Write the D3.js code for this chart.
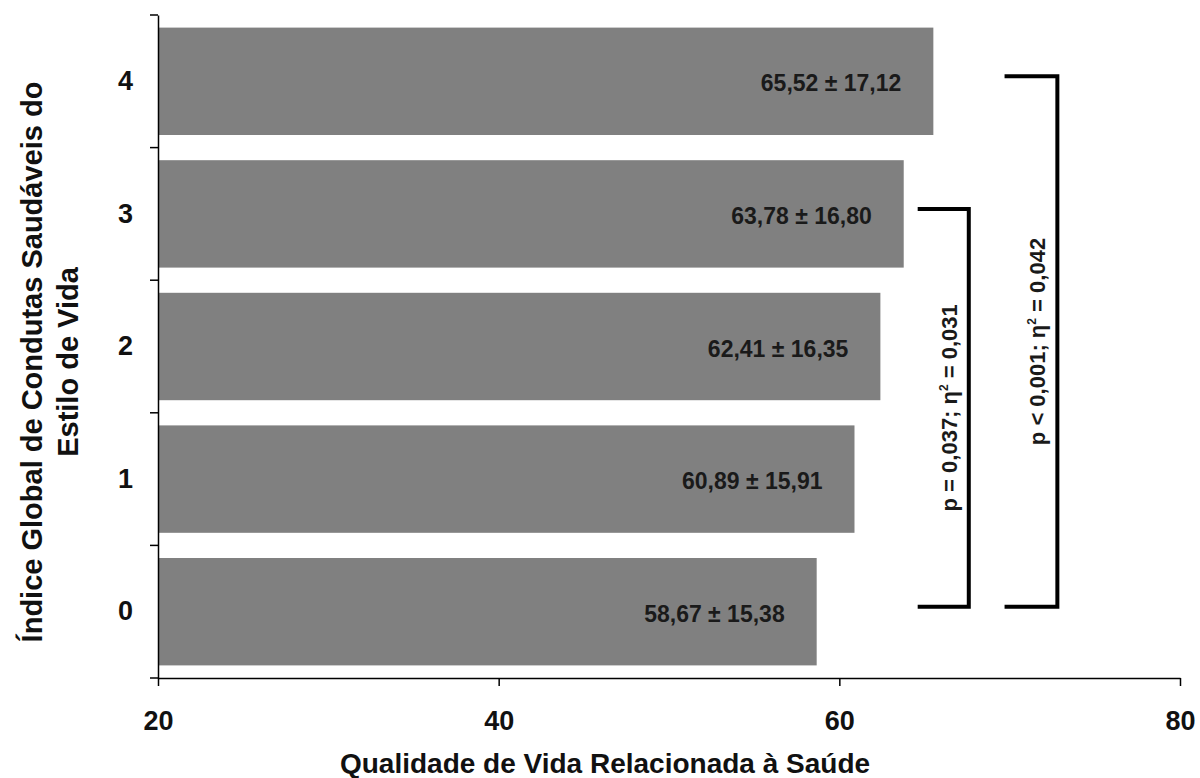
<!DOCTYPE html>
<html>
<head>
<meta charset="utf-8">
<script src="https://cdn.jsdelivr.net/npm/d3@7"></script>
<style>
  body { margin: 0; background: #fff; }
  text { font-family: "Liberation Sans", Arial, sans-serif; font-weight: bold; }
</style>
</head>
<body>
<div id="chart"></div>
<script>
var categories = ["4", "3", "2", "1", "0"];
var means = [65.52, 63.78, 62.41, 60.89, 58.67];
var labels = ["65,52 ± 17,12", "63,78 ± 16,80", "62,41 ± 16,35", "60,89 ± 15,91", "58,67 ± 15,38"];
var xTicks = [20, 40, 60, 80];
// brackets: from category, to category, x of arms start / end (data units), text
var brackets = [
  {from: "3", to: "0", x0: 64.6, x1: 67.6, p: "p = 0,037; ", eta: "0,031"},
  {from: "4", to: "0", x0: 69.7, x1: 72.8, p: "p < 0,001; ", eta: "0,042"}
];

function init(){
    var w = 1200, h = 778;
    var left = 158, right = 1180, top = 15, bottom = 678;

    var svg = d3.select("#chart").append("svg")
        .attr("width", w)
        .attr("height", h);

    var xScale = d3.scaleLinear()
        .domain([20, 80])
        .range([left, right]);

    var yScale = d3.scaleBand()
        .domain(categories)
        .range([top, bottom])
        .paddingInner(0.19)
        .paddingOuter(0.095);

    var step = yScale.step();

    // bars
    svg.selectAll("rect.bar")
        .data(means)
        .enter()
        .append("rect")
        .attr("class", "bar")
        .attr("x", xScale(20))
        .attr("y", function(d, i){ return yScale(categories[i]); })
        .attr("width", function(d){ return xScale(d) - xScale(20); })
        .attr("height", yScale.bandwidth())
        .attr("fill", "#808080");

    // value labels
    svg.selectAll("text.val")
        .data(means)
        .enter()
        .append("text")
        .attr("class", "val")
        .attr("x", function(d){ return xScale(d) - 32; })
        .attr("y", function(d, i){ return yScale(categories[i]) + yScale.bandwidth()/2 + 10; })
        .attr("text-anchor", "end")
        .attr("font-size", "23px")
        .attr("fill", "#1a1a1a")
        .text(function(d, i){ return labels[i]; });

    // x axis
    var xAxis = d3.axisBottom(xScale)
        .tickValues(xTicks)
        .tickSize(8)
        .tickSizeOuter(0);
    var gx = svg.append("g")
        .attr("transform", "translate(0," + bottom + ")")
        .call(xAxis);
    gx.select(".domain").attr("stroke", "#000").attr("stroke-width", 1.5);
    gx.selectAll(".tick line").attr("stroke", "#000").attr("stroke-width", 1.5);
    gx.selectAll(".tick text")
        .attr("font-size", "27px")
        .attr("fill", "#111")
        .attr("dy", 0)
        .attr("y", 52)
        .style("font-family", "'Liberation Sans', Arial, sans-serif")
        .style("font-weight", "bold");

    // y axis (labels at band centres, ticks at band boundaries)
    var yAxis = d3.axisLeft(yScale).tickSize(0).tickPadding(25);
    var gy = svg.append("g")
        .attr("transform", "translate(" + left + ",0)")
        .call(yAxis);
    gy.select(".domain").attr("stroke", "#000").attr("stroke-width", 1.5);
    gy.selectAll(".tick text")
        .attr("font-size", "27px")
        .attr("fill", "#111")
        .style("font-family", "'Liberation Sans', Arial, sans-serif")
        .style("font-weight", "bold");

    var bounds = d3.range(categories.length + 1).map(function(k){ return top + k * step; });
    svg.selectAll("line.ytick")
        .data(bounds)
        .enter()
        .append("line")
        .attr("class", "ytick")
        .attr("x1", left - 8)
        .attr("x2", left)
        .attr("y1", function(d){ return d; })
        .attr("y2", function(d){ return d; })
        .attr("stroke", "#000")
        .attr("stroke-width", 1.5);

    // axis titles
    svg.append("text")
        .attr("x", 605)
        .attr("y", 773)
        .attr("text-anchor", "middle")
        .attr("font-size", "28px")
        .attr("fill", "#111")
        .text("Qualidade de Vida Relacionada à Saúde");

    var yTitle = svg.append("text")
        .attr("transform", "translate(42,362) rotate(-90)")
        .attr("text-anchor", "middle")
        .attr("font-size", "29px")
        .attr("fill", "#111");
    yTitle.append("tspan").attr("x", 0).attr("dy", 0).text("Índice Global de Condutas Saudáveis do");
    yTitle.append("tspan").attr("x", 0).attr("dy", 36).text("Estilo de Vida");

    // brackets
    brackets.forEach(function(b){
        var yA = yScale(b.from) + yScale.bandwidth()/2 - 5;
        var yB = yScale(b.to) + yScale.bandwidth()/2 - 5;
        var x0 = xScale(b.x0), x1 = xScale(b.x1);
        svg.append("path")
            .attr("d", "M" + x0 + "," + yA + "H" + x1 + "V" + yB + "H" + x0)
            .attr("fill", "none")
            .attr("stroke", "#000")
            .attr("stroke-width", 4);
        var t = svg.append("text")
            .attr("transform", "translate(" + (x1 - 12) + "," + ((yA + yB) / 2) + ") rotate(-90)")
            .attr("text-anchor", "middle")
            .attr("font-size", "22px")
            .attr("fill", "#1a1a1a");
        t.append("tspan").text(b.p + "η");
        t.append("tspan").attr("font-size", "12px").attr("dy", -9).text("2");
        t.append("tspan").attr("dy", 9).text(" = " + b.eta);
    });
}

window.onload = init;
</script>
</body>
</html>
